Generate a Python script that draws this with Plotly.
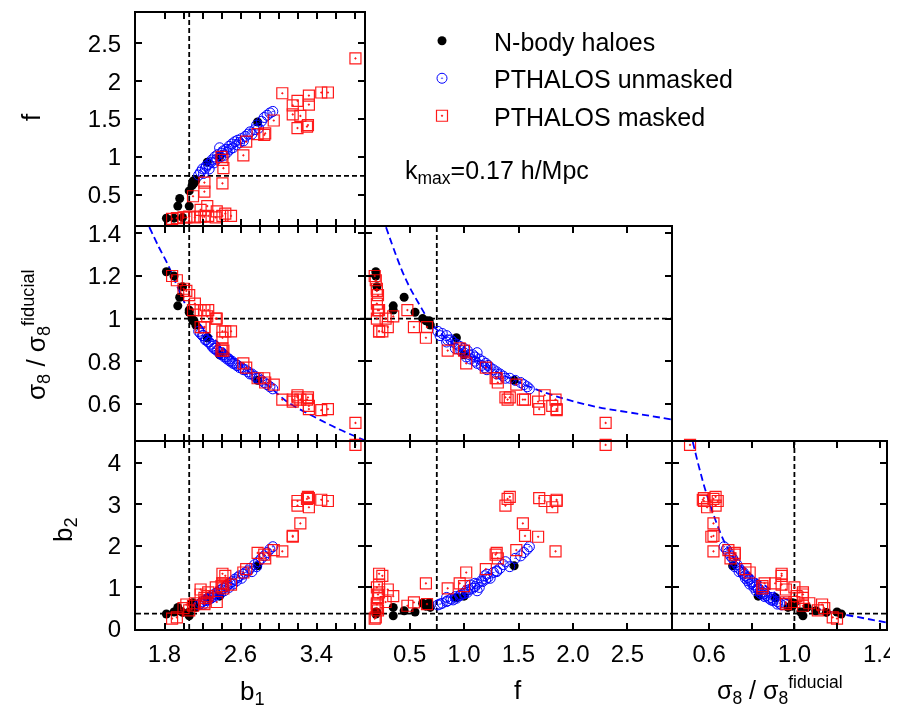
import plotly.graph_objects as go

# ---------------- data ----------------
# N-body haloes
nb_b1 = [1.82, 1.90, 1.96, 1.99, 1.94, 2.06, 2.06, 2.09, 2.11, 2.13, 2.10, 2.25, 2.38, 2.78]
nb_f  = [0.19, 0.19, 0.45, 0.20, 0.35, 0.35, 0.55, 0.62, 0.65, 0.69, 0.68, 0.93, 1.00, 1.46]
nb_s8 = [1.22, 1.20, 1.10, 1.15, 1.06, 1.04, 1.03, 1.00, 0.99, 0.97, 0.99, 0.91, 0.83, 0.71]
nb_b2 = [0.36, 0.41, 0.44, 0.40, 0.52, 0.32, 0.41, 0.62, 0.55, 0.52, 0.63, 0.75, 0.79, 1.52]

# PTHALOS unmasked
un_b1 = [2.16, 2.18, 2.20, 2.21, 2.23, 2.24, 2.26, 2.27, 2.29, 2.30, 2.32, 2.33, 2.35, 2.36,
         2.38, 2.39, 2.40, 2.42, 2.43, 2.45, 2.46, 2.48, 2.49, 2.51, 2.52, 2.54, 2.56, 2.57,
         2.59, 2.61, 2.63, 2.65, 2.68, 2.70, 2.72, 2.75, 2.77, 2.79, 2.82, 2.85, 2.88, 2.91, 2.94]
un_f  = [0.76, 0.80, 0.84, 0.78, 0.85, 0.88, 0.90, 0.84, 0.93, 0.96, 0.92, 1.00, 0.97, 1.03,
         1.12, 1.00, 1.05, 1.08, 1.02, 1.10, 1.06, 1.14, 1.10, 1.17, 1.12, 1.20, 1.16, 1.22,
         1.19, 1.24, 1.21, 1.27, 1.30, 1.33, 1.30, 1.36, 1.42, 1.38, 1.47, 1.52, 1.55, 1.58, 1.60]
un_s8 = [0.94, 0.93, 0.92, 0.92, 0.90, 0.90, 0.89, 0.89, 0.88, 0.87, 0.86, 0.86, 0.85, 0.85,
         0.84, 0.84, 0.83, 0.83, 0.82, 0.82, 0.81, 0.81, 0.80, 0.80, 0.79, 0.79, 0.78, 0.78,
         0.77, 0.77, 0.76, 0.76, 0.75, 0.74, 0.74, 0.73, 0.72, 0.72, 0.71, 0.70, 0.69, 0.68, 0.67]
un_b2 = [0.58, 0.62, 0.66, 0.60, 0.68, 0.72, 0.70, 0.76, 0.74, 0.80, 0.78, 0.85, 0.82, 0.88,
         0.92, 0.86, 0.95, 0.98, 0.92, 1.02, 1.06, 1.00, 1.10, 1.14, 1.08, 1.20, 1.16, 1.24,
         1.28, 1.22, 1.32, 1.36, 1.40, 1.46, 1.38, 1.55, 1.50, 1.62, 1.70, 1.76, 1.84, 1.92, 1.98]

# PTHALOS masked
ma_b1 = [1.88, 1.93, 2.00, 2.03, 2.06, 2.12, 2.18, 2.22, 2.26, 2.34, 2.41, 2.44, 2.50, 2.35,
         2.25, 2.18, 2.10, 2.22, 2.22, 2.41, 2.40, 2.41, 2.42, 2.63, 2.66, 2.78, 2.85, 2.86,
         2.95, 3.04, 3.15, 3.15, 3.20, 3.23, 3.20, 3.30, 3.31, 3.32, 3.32, 3.45, 3.52, 3.81]
ma_f  = [0.18, 0.19, 0.20, 0.20, 0.21, 0.20, 0.21, 0.21, 0.22, 0.20, 0.22, 0.25, 0.22, 0.28,
         0.35, 0.30, 0.48, 0.54, 0.66, 0.65, 1.00, 0.96, 0.85, 1.02, 1.20, 1.30, 1.29, 1.31,
         1.48, 1.84, 1.56, 1.68, 1.74, 1.54, 1.38, 1.40, 1.42, 1.81, 1.69, 1.85, 1.85, 2.30]
ma_s8 = [1.20, 1.18, 1.14, 1.13, 1.11, 1.07, 1.04, 1.04, 1.04, 1.00, 0.94, 0.94, 0.94, 1.00,
         1.01, 0.96, 1.04, 0.96, 0.96, 0.91, 0.85, 0.86, 0.85, 0.79, 0.77, 0.72, 0.72, 0.70,
         0.69, 0.62, 0.62, 0.61, 0.64, 0.62, 0.63, 0.62, 0.63, 0.59, 0.575, 0.57, 0.575, 0.51]
ma_b2 = [0.25, 0.28, 0.50, 0.59, 0.45, 0.62, 0.83, 0.75, 0.88, 1.00, 1.33, 1.28, 1.07, 0.65,
         0.79, 0.95, 0.56, 0.64, 0.60, 1.10, 1.03, 1.10, 0.98, 1.36, 1.44, 1.83, 1.79, 1.70,
         1.90, 1.87, 2.24, 2.22, 3.08, 2.54, 2.97, 3.13, 3.18, 2.93, 3.15, 3.11, 3.08, 4.43]

# model curves (dashed blue)
cv_b1_b1 = [1.64, 1.74, 1.83, 2.05, 2.19, 2.40, 2.61, 2.89, 3.10, 3.38, 3.62, 3.90]
cv_b1_s8 = [1.43, 1.336, 1.259, 1.042, 0.964, 0.871, 0.778, 0.685, 0.607, 0.538, 0.484, 0.43]
cv_f_f   = [0.284, 0.454, 0.582, 0.72, 1.01, 1.314, 1.65, 1.925, 2.23, 2.535, 2.9]
cv_f_s8  = [1.429, 1.197, 1.073, 0.964, 0.84, 0.747, 0.67, 0.623, 0.584, 0.558, 0.527]
cv_s8_s8 = [0.523, 0.554, 0.584, 0.631, 0.677, 0.739, 0.831, 0.939, 1.047, 1.171, 1.294, 1.43]
cv_s8_b2 = [4.5, 3.86, 3.31, 2.6, 2.04, 1.56, 1.17, 0.77, 0.57, 0.41, 0.29, 0.16]

# fiducial values
fid_b1, fid_f, fid_s8, fid_b2 = 2.06, 0.75, 1.0, 0.37

# axis ranges and ticks
rng_b1 = [1.5, 3.9]
rng_f = [0.1, 2.9]
rng_s8 = [0.43, 1.43]
rng_b2 = [0.0, 4.5]
b1_ticks = [1.8, 2.0, 2.2, 2.4, 2.6, 2.8, 3.0, 3.2, 3.4, 3.6, 3.8]
b1_labels = ["1.8", "", "", "", "2.6", "", "", "", "3.4", "", ""]
f_yticks = [0.5, 1.0, 1.5, 2.0, 2.5]
f_ylabels = ["0.5", "1", "1.5", "2", "2.5"]
f_xlabels = ["0.5", "1.0", "1.5", "2.0", "2.5"]
s8_yticks = [0.6, 0.8, 1.0, 1.2, 1.4]
s8_ylabels = ["0.6", "0.8", "1", "1.2", "1.4"]
s8_xticks = [0.6, 0.8, 1.0, 1.2, 1.4]
s8_xlabels = ["0.6", "", "1.0", "", "1.4"]
b2_ticks = [0, 1, 2, 3, 4]
b2_labels = ["0", "1", "2", "3", "4"]

# ---------------- layout geometry ----------------
# the page body has an 8px margin, so the figure sits at (8, 8) in the window
OX, OY = 8, 8
W, H = 890, 700
def px(x):
    return (x - OX) / W
def py(y):
    return 1 - (y - OY) / H
def xd(a, b):
    return [px(a), px(b)]
def yd(top, bot):
    return [py(bot), py(top)]

# 1px inset on each side so neighbouring panel frames coincide
colx = [xd(136, 364), xd(366, 671), xd(673, 886)]
rowy = [yd(13, 225), yd(227, 440), yd(442, 629)]

FONT = "Liberation Sans, Arial, sans-serif"
fig = go.Figure()

panels = [
    (1, "b1", "f", 0, 0),
    (2, "b1", "s8", 0, 1),
    (3, "b1", "b2", 0, 2),
    (4, "f", "s8", 1, 1),
    (5, "f", "b2", 1, 2),
    (6, "s8", "b2", 2, 2),
]
data = {
    "nb": {"b1": nb_b1, "f": nb_f, "s8": nb_s8, "b2": nb_b2},
    "un": {"b1": un_b1, "f": un_f, "s8": un_s8, "b2": un_b2},
    "ma": {"b1": ma_b1, "f": ma_f, "s8": ma_s8, "b2": ma_b2},
}
fids = {"b1": fid_b1, "f": fid_f, "s8": fid_s8, "b2": fid_b2}
ranges = {"b1": rng_b1, "f": rng_f, "s8": rng_s8, "b2": rng_b2}

curves = {
    2: (cv_b1_b1, cv_b1_s8),
    4: (cv_f_f, cv_f_s8),
    6: (cv_s8_s8, cv_s8_b2),
}

names = {"nb": "N-body haloes", "un": "PTHALOS unmasked", "ma": "PTHALOS masked"}
styles = {
    "nb": dict(symbol="circle", size=9, color="black", line=dict(width=0)),
    "un": dict(symbol="circle-open-dot", size=10, color="rgb(0,0,255)", line=dict(width=1.0)),
    "ma": dict(symbol="square-open-dot", size=11, color="rgb(255,0,0)", line=dict(width=1.2)),
}

dashk = dict(color="black", width=1.8, dash="5px,3px")

for idx, xn, yn, c, r in panels:
    xa = "x" if idx == 1 else f"x{idx}"
    ya = "y" if idx == 1 else f"y{idx}"
    xr, yr = ranges[xn], ranges[yn]
    fig.add_trace(go.Scatter(x=[fids[xn], fids[xn]], y=yr, mode="lines", line=dashk,
                             xaxis=xa, yaxis=ya, showlegend=False, hoverinfo="skip"))
    fig.add_trace(go.Scatter(x=xr, y=[fids[yn], fids[yn]], mode="lines", line=dashk,
                             xaxis=xa, yaxis=ya, showlegend=False, hoverinfo="skip"))
    if idx in curves:
        cx, cy = curves[idx]
        fig.add_trace(go.Scatter(x=cx, y=cy, mode="lines", line_shape="spline",
                                 line=dict(color="rgb(0,0,255)", width=1.8, dash="7px,4px"),
                                 xaxis=xa, yaxis=ya, showlegend=False, hoverinfo="skip"))
    for key in ["nb", "un", "ma"]:
        fig.add_trace(go.Scatter(
            x=data[key][xn], y=data[key][yn], mode="markers", name=names[key],
            marker=styles[key], opacity=0.9 if key == "ma" else 1.0,
            xaxis=xa, yaxis=ya, cliponaxis=False,
            showlegend=(idx == 1), legendgroup=key))

    tickfont = dict(family=FONT, size=24, color="black")
    common = dict(showgrid=False, zeroline=False, showline=True, mirror="ticks",
                  linecolor="black", linewidth=2, ticks="inside", ticklen=6,
                  tickwidth=1.5, tickcolor="black", tickfont=tickfont, automargin=False)
    if xn == "b1":
        xt, xl = b1_ticks, b1_labels
    elif xn == "f":
        xt, xl = f_yticks, f_xlabels
    else:
        xt, xl = s8_xticks, s8_xlabels
    showx = (r == 2)
    xaxis = dict(domain=colx[c], range=xr, anchor=ya, tickmode="array", tickvals=xt,
                 ticktext=xl if showx else [""] * len(xt), ticklabelstandoff=2, **common)
    if yn == "f":
        yt, yl = f_yticks, f_ylabels
    elif yn == "s8":
        yt, yl = s8_yticks, s8_ylabels
    else:
        yt, yl = b2_ticks, b2_labels
    showy = (c == 0)
    yaxis = dict(domain=rowy[r], range=yr, anchor=xa, tickmode="array", tickvals=yt,
                 ticktext=yl if showy else [""] * len(yt), ticklabelstandoff=8, **common)
    kx = "xaxis" if idx == 1 else f"xaxis{idx}"
    ky = "yaxis" if idx == 1 else f"yaxis{idx}"
    fig.layout[kx] = xaxis
    fig.layout[ky] = yaxis

lab = dict(family=FONT, size=26, color="black")
s8lab = "σ<sub>8</sub> / σ<sub>8</sub><sup>fiducial</sup>"
ann = [
    dict(text="f", x=px(31), y=py(117), textangle=-90, font=lab),
    dict(text=s8lab, x=px(36), y=py(335), textangle=-90, font=lab),
    dict(text="b<sub>2</sub>", x=px(64), y=py(530), textangle=-90, font=lab),
    dict(text="b<sub>1</sub>", x=px(252), y=py(692), font=lab),
    dict(text="f", x=px(518), y=py(690), font=lab),
    dict(text=s8lab, x=px(780), y=py(690), font=dict(family=FONT, size=25, color="black")),
    dict(text="k<sub>max</sub>=0.17 h/Mpc", x=px(403), y=py(172), xanchor="left",
         font=dict(family=FONT, size=25, color="black")),
]
for a in ann:
    a["xref"] = "paper"
    a["yref"] = "paper"
    a["showarrow"] = False
    a.setdefault("xanchor", "center")
    a["yanchor"] = "middle"

fig.update_layout(
    width=W, height=H, margin=dict(l=0, r=0, t=0, b=0, autoexpand=False),
    paper_bgcolor="white", plot_bgcolor="white",
    annotations=ann,
    legend=dict(x=px(390), y=py(18), xanchor="left", yanchor="top",
                font=dict(family=FONT, size=25, color="black"),
                bgcolor="rgba(0,0,0,0)", tracegroupgap=2, itemwidth=94),
    showlegend=True,
)

fig.write_html("out.html")
